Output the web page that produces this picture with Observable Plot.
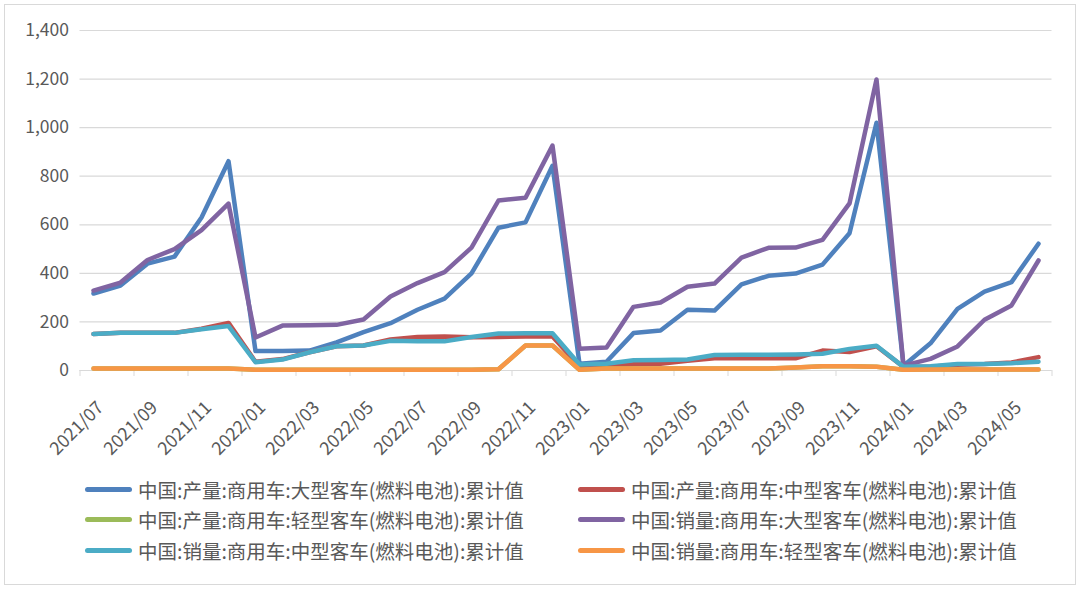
<!DOCTYPE html>
<html>
<head>
<meta charset="utf-8">
<script src="https://cdn.jsdelivr.net/npm/d3@7"></script>
<script src="https://cdn.jsdelivr.net/npm/@observablehq/plot@0.6"></script>
<style>
  html, body { margin: 0; padding: 0; background: #fff; }
  #wrap { position: relative; width: 1080px; height: 589px; overflow: hidden; font-family: "Noto Sans CJK SC", "Noto Sans", sans-serif; }
  #frame { position: absolute; left: 4px; top: 4px; width: 1070px; height: 579px; border: 1px solid #d9d9d9; pointer-events: none; }
  #chart svg { display: block; overflow: visible; }
  #legend { position: absolute; left: 0; top: 450px; width: 1080px; padding-left: 85px; padding-top: 24px; box-sizing: border-box;
            display: grid; grid-template-columns: 493px auto; grid-auto-rows: 30.5px; color: #595959; font-size: 19.5px; }
  .item { display: flex; align-items: center; white-space: nowrap; }
  .sw { display: inline-block; width: 47px; height: 5px; border-radius: 2.5px; margin-right: 6px; }
</style>
</head>
<body>
<div id="wrap">
  <div id="chart"></div>
  <div id="legend"></div>
  <div id="frame"></div>
</div>
<script>
const months = ["2021/07","2021/08","2021/09","2021/10","2021/11","2021/12",
  "2022/01","2022/02","2022/03","2022/04","2022/05","2022/06","2022/07","2022/08","2022/09","2022/10","2022/11","2022/12",
  "2023/01","2023/02","2023/03","2023/04","2023/05","2023/06","2023/07","2023/08","2023/09","2023/10","2023/11","2023/12",
  "2024/01","2024/02","2024/03","2024/04","2024/05","2024/06"];

const seriesNames = [
  "中国:产量:商用车:大型客车(燃料电池):累计值",
  "中国:产量:商用车:中型客车(燃料电池):累计值",
  "中国:产量:商用车:轻型客车(燃料电池):累计值",
  "中国:销量:商用车:大型客车(燃料电池):累计值",
  "中国:销量:商用车:中型客车(燃料电池):累计值",
  "中国:销量:商用车:轻型客车(燃料电池):累计值"
];
const seriesColors = ["#4F81BD", "#C0504D", "#9BBB59", "#8064A2", "#4BACC6", "#F79646"];

const prodLarge = [317,350,440,469,630,862, 80,80,82,116,158,195,250,296,400,588,610,843, 28,36,154,165,250,247,355,390,399,436,565,1020, 20,112,254,325,364,522];
const prodMid   = [150,155,155,155,172,196, 36,47,75,100,103,128,138,140,137,138,140,140, 18,20,26,28,40,50,50,50,50,82,76,100, 15,15,24,27,33,55];
const prodLight = [8,8,8,8,8,8, 3,3,3,3,3,3,3,3,3,5,103,103, 3,8,8,8,8,8,8,8,12,17,17,15, 3,4,4,4,4,4];
const salesLarge= [329,362,455,500,578,687, 136,185,186,188,210,305,360,405,506,700,711,926, 90,95,262,280,345,358,465,505,506,538,688,1198, 20,48,99,209,268,453];
const salesMid  = [150,155,155,155,170,183, 34,45,75,100,103,122,120,120,138,152,153,153, 25,28,42,43,45,64,65,65,66,69,89,102, 15,18,27,27,30,36];
const salesLight= [8,8,8,8,8,8, 3,3,3,3,3,3,3,3,3,5,103,103, 3,8,8,8,8,8,8,8,12,17,17,15, 3,4,4,4,4,4];

const allSeries = [prodLarge, prodMid, prodLight, salesLarge, salesMid, salesLight];
const yTicks = [0,200,400,600,800,1000,1200,1400];

const boundaries = d3.range(-0.5, months.length, 2);
const labelIdx = d3.range(0, months.length, 2);

const lineMarks = allSeries.map((vals, k) =>
  Plot.line(vals.map((v, i) => ({i, v})), {
    x: "i", y: "v", stroke: seriesColors[k], strokeWidth: 4.5,
    strokeLinejoin: "round", strokeLinecap: "round"
  })
);

const chart = Plot.plot({
  width: 1080, height: 470,
  marginLeft: 79.5, marginRight: 28.5, marginTop: 30, marginBottom: 100,
  x: {type: "linear", domain: [-0.5, months.length - 0.5]},
  y: {domain: [0, 1400]},
  style: {fontFamily: "'Noto Sans CJK SC', 'Noto Sans', sans-serif", color: "#595959", background: "transparent", overflow: "visible"},
  marks: [
    Plot.gridY(yTicks, {stroke: "#d9d9d9", strokeOpacity: 1, strokeWidth: 1.2}),
    Plot.axisY(yTicks, {tickSize: 0, tickPadding: 11, tickFormat: d3.format(","), fontSize: 17.5, label: null, fill: "#595959"}),
    Plot.ruleY([0], {stroke: "#d9d9d9", strokeWidth: 1.2}),
    Plot.axisX(boundaries, {tickSize: 6, tickFormat: () => "", stroke: "#d9d9d9", label: null}),
    Plot.axisX(labelIdx, {tickSize: 0, tickRotate: -45, tickPadding: 22, dx: 7, dy: 12, tickFormat: i => months[i], fontSize: 18, label: null, fill: "#595959"}),
    ...lineMarks
  ]
});
document.getElementById("chart").appendChild(chart);

const legend = document.getElementById("legend");
[0, 1, 2, 3, 4, 5].forEach(k => {
  const it = document.createElement("div");
  it.className = "item";
  const sw = document.createElement("span");
  sw.className = "sw";
  sw.style.background = seriesColors[k];
  const tx = document.createElement("span");
  tx.textContent = seriesNames[k];
  it.appendChild(sw); it.appendChild(tx);
  legend.appendChild(it);
});
</script>
</body>
</html>
